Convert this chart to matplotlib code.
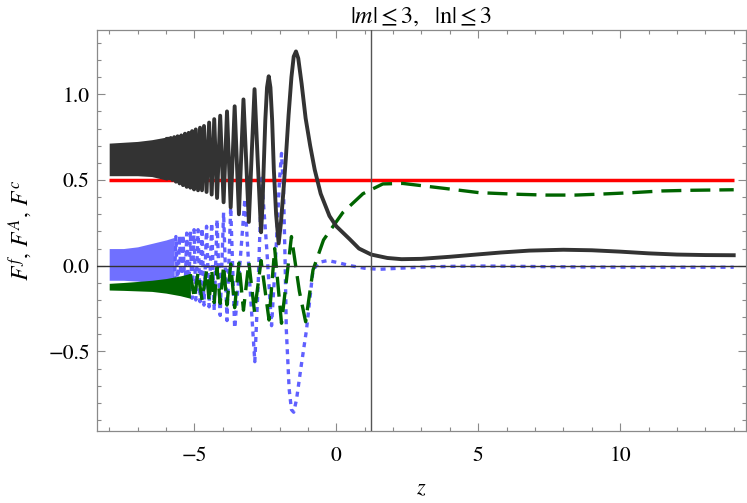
import matplotlib
matplotlib.use('Agg')
import matplotlib.pyplot as plt
from matplotlib.ticker import MultipleLocator

plt.rcParams['font.family'] = 'STIXGeneral'
plt.rcParams['mathtext.fontset'] = 'stix'

# ---------------- data ----------------
# dense (unresolvable) oscillation bands: envelopes
band_z = [-8.0, -7.5, -7.0, -6.5, -6.0, -5.95]
black_band_hi = [0.715, 0.72, 0.725, 0.735, 0.75, 0.752]
black_band_lo = [0.525, 0.525, 0.525, 0.52, 0.50, 0.50]
blue_band_z = [-8.0, -7.5, -7.0, -6.5, -6.0, -5.71]
blue_band_hi = [0.10, 0.10, 0.11, 0.13, 0.15, 0.165]
blue_band_lo = [-0.085, -0.085, -0.09, -0.10, -0.12, -0.15]
green_band_z = [-8.0, -7.5, -7.0, -6.5, -6.0, -5.5, -5.14]
green_band_hi = [-0.103, -0.098, -0.092, -0.085, -0.075, -0.06, -0.045]
green_band_lo = [-0.142, -0.144, -0.147, -0.15, -0.16, -0.175, -0.19]

# resolved part of F^f (black, solid)
black_z = [-5.95, -5.89, -5.83, -5.77, -5.71, -5.65, -5.59, -5.52, -5.46, -5.40,
           -5.33, -5.27, -5.20, -5.14, -5.08, -5.01, -4.95, -4.87, -4.80, -4.73,
           -4.66, -4.57, -4.48, -4.39, -4.30, -4.20, -4.09, -3.97, -3.85, -3.72,
           -3.58, -3.43, -3.27, -3.08, -2.98, -2.88, -2.77, -2.65, -2.60, -2.56,
           -2.50, -2.44, -2.38, -2.32, -2.26, -2.20, -2.12, -2.03, -1.95, -1.87,
           -1.78, -1.68, -1.58, -1.50, -1.42, -1.34, -1.22, -1.08, -0.92, -0.76,
           -0.55, -0.24, 0.0, 0.47, 0.8, 1.23, 1.8, 2.3, 3.0, 4.0,
           5.0, 5.8, 6.8, 8.0, 9.0, 10.0, 11.0, 12.0, 13.0, 14.0]
black_v = [0.74, 0.51, 0.745, 0.50, 0.75, 0.49, 0.755, 0.48, 0.76, 0.47,
           0.77, 0.46, 0.775, 0.455, 0.785, 0.445, 0.795, 0.44, 0.805, 0.44,
           0.815, 0.43, 0.835, 0.415, 0.855, 0.395, 0.875, 0.37, 0.90, 0.34,
           0.93, 0.30, 0.97, 0.255, 0.65, 1.03, 0.62, 0.195, 0.35, 0.56,
           0.85, 1.04, 1.105, 1.04, 0.85, 0.56, 0.30, 0.13, 0.25, 0.42,
           0.62, 0.88, 1.10, 1.22, 1.25, 1.21, 1.06, 0.86, 0.70, 0.56,
           0.42, 0.29, 0.23, 0.155, 0.10, 0.065, 0.045, 0.038, 0.04, 0.052,
           0.066, 0.077, 0.088, 0.093, 0.09, 0.082, 0.072, 0.065, 0.062, 0.061]

# resolved part of F^A (blue, dotted)
blue_z = [-5.71, -5.65, -5.59, -5.52, -5.46, -5.40, -5.33, -5.27, -5.20, -5.14,
          -5.08, -5.01, -4.95, -4.87, -4.80, -4.73, -4.66, -4.57, -4.48, -4.39,
          -4.30, -4.20, -4.09, -3.97, -3.85, -3.72, -3.58, -3.40, -3.22, -3.05,
          -2.87, -2.75, -2.63, -2.45, -2.28, -2.12, -2.00, -1.93, -1.86, -1.80,
          -1.76, -1.66, -1.58, -1.50, -1.40, -1.25, -1.05, -0.82, -0.6, -0.3,
          0.0, 0.5, 1.0, 1.5, 2.2, 3.0, 4.0, 5.0, 6.0, 7.5,
          9.0, 11.0, 14.0]
blue_v = [-0.15, 0.17, -0.16, 0.175, -0.17, 0.18, -0.18, 0.19, -0.19, 0.20,
          -0.19, 0.21, -0.20, 0.21, -0.21, 0.22, -0.23, 0.23, -0.24, 0.25,
          -0.26, 0.27, -0.29, 0.31, -0.32, 0.34, -0.365, 0.0, 0.39, -0.10,
          -0.56, -0.10, 0.51, 0.10, -0.35, 0.10, 0.50, 0.655, 0.45, 0.0,
          -0.375, -0.72, -0.84, -0.855, -0.78, -0.60, -0.375, -0.025, 0.02, 0.03,
          0.02, 0.0, -0.015, -0.021, -0.015, -0.008, -0.004, -0.002, -0.003, -0.006,
          -0.008, -0.009, -0.009]

# resolved part of F^c (green, dashed)
green_z = [-5.14, -5.0, -4.87, -4.73, -4.57, -4.48, -4.39, -4.30, -4.20, -4.09,
           -3.97, -3.85, -3.72, -3.58, -3.43, -3.27, -3.08, -2.88, -2.65, -2.37,
           -2.17, -1.93, -1.58, -1.30, -1.08, -0.82, -0.45, -0.24, 0.23, 0.94,
           1.64, 2.34, 3.86, 5.03, 6.32, 7.37, 8.43, 9.36, 10.41, 11.47,
           12.52, 13.52, 14.0]
green_v = [-0.05, -0.19, -0.04, -0.20, -0.03, -0.21, -0.02, -0.215, -0.01, -0.22,
           0.0, -0.23, 0.01, -0.245, 0.015, -0.26, 0.02, -0.27, 0.03, -0.317,
           0.10, -0.336, 0.17, -0.15, -0.327, -0.025, 0.15, 0.20, 0.31, 0.42,
           0.477, 0.48, 0.45, 0.426, 0.417, 0.412, 0.412, 0.418, 0.426, 0.436,
           0.44, 0.442, 0.443]

red_z = [-8.0, 14.0]
red_v = [0.5, 0.5]

vline_z = 1.23

x_ticks = [-5, 0, 5, 10]
y_ticks = [-0.5, 0.0, 0.5, 1.0]
y_ticklabels = ['\u22120.5', '0.0', '0.5', '1.0']
x_ticklabels = ['\u22125', '0', '5', '10']

# ---------------- figure ----------------
W, H = 747, 503
fig = plt.figure(figsize=(W / 100, H / 100), dpi=100)
ax = fig.add_axes([96.7 / W, 1 - 431 / H, (746.2 - 96.7) / W, (431 - 30) / H])

BLUE = '#6060ff'
BLUE_BAND = '#7070ff'
GREEN = '#006400'
BLACK = '#333333'
frame_col = '#8a8a8a'

ax.plot(red_z, red_v, color='#ff0000', lw=2.5, solid_capstyle='butt', zorder=2)

ax.fill_between(blue_band_z, blue_band_lo, blue_band_hi, color=BLUE_BAND, lw=0, zorder=3)
ax.plot(blue_z, blue_v, color=BLUE, lw=2.4, dashes=(1.5, 1.5), zorder=3)

ax.fill_between(green_band_z, green_band_lo, green_band_hi, color=GREEN, lw=0, zorder=4)
ax.plot(green_z, green_v, color=GREEN, lw=2.4, dashes=(6, 2.7), zorder=4)

ax.fill_between(band_z, black_band_lo, black_band_hi, color=BLACK, lw=0, zorder=5)
ax.plot(black_z, black_v, color=BLACK, lw=2.8, zorder=5)

# axes lines
ax.axhline(0, color='#333333', lw=1.0, zorder=6)
ax.axvline(vline_z, color='#555555', lw=1.0, zorder=6)

ax.set_xlim(-8.44, 14.44)
ax.set_ylim(-0.9644, 1.375)

ax.set_xticks(x_ticks)
ax.set_xticklabels(x_ticklabels)
ax.set_yticks(y_ticks)
ax.set_yticklabels(y_ticklabels)
ax.xaxis.set_minor_locator(MultipleLocator(1))
ax.yaxis.set_minor_locator(MultipleLocator(0.1))

ax.tick_params(which='both', direction='in', top=True, right=True, colors=frame_col,
               labelcolor='black', labelsize=15.5, width=0.8)
ax.tick_params(which='major', length=5.5)
ax.tick_params(which='minor', length=3)
ax.tick_params(axis='y', pad=5)
ax.tick_params(axis='x', pad=11)
for sp in ax.spines.values():
    sp.set_color(frame_col)
    sp.set_linewidth(0.9)

ax.set_title(r'$|m| \leq 3,\ \ |\mathrm{n}| \leq 3$', fontsize=17.5, pad=5)
ax.set_xlabel(r'$z$', fontsize=16, labelpad=10)
ax.set_ylabel(r'$F^f,\, F^A,\, F^c$', fontsize=17, labelpad=10)

fig.savefig('out.png', dpi=100)
